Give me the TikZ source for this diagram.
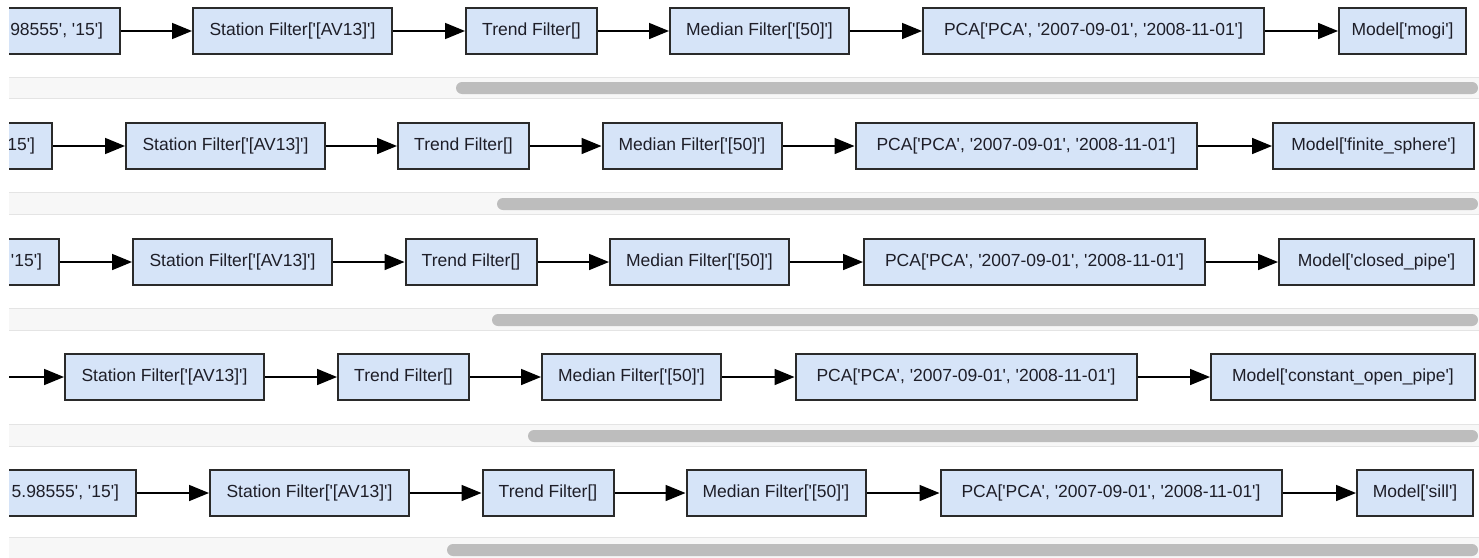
\documentclass[tikz,border=0pt]{standalone}
\usepackage{fontspec}
\setmainfont{Liberation Sans}[Ligatures=TeXOff]
\usetikzlibrary{arrows.meta}
\definecolor{boxfill}{HTML}{D6E4F8}
\definecolor{boxline}{HTML}{2A2A2A}
\definecolor{txt}{HTML}{1E1E28}
\definecolor{bandfill}{HTML}{F7F7F7}
\definecolor{bandline}{HTML}{E4E4E4}
\definecolor{thumb}{HTML}{BDBDBD}
\tikzset{
  box/.style={draw=boxline, fill=boxfill, line width=2pt, minimum height=46pt,
    inner sep=0pt, text=txt, font=\fontsize{17.5}{20}\selectfont},
  sfbox/.style={box, minimum width=199pt},
  tfbox/.style={box, minimum width=131pt},
  mfbox/.style={box, minimum width=179pt},
  pcabox/.style={box, minimum width=341pt},
  cutbox/.style={box, anchor=east, inner xsep=17pt},
  arr/.style={draw=black, line width=1.6pt, -{Triangle[length=20pt,width=16pt]}},
  band/.style={fill=bandfill, draw=none},
  bandedge/.style={draw=bandline, line width=1pt},
  thumbbar/.style={fill=thumb, draw=none, rounded corners=6pt}
}
\newcommand{\cuttext}[1]{\makebox[220pt][r]{#1}}
\newcommand{\scrollrow}[4]{%
  \fill[band] (9,#1) rectangle (1479,#2);
  \draw[bandedge] (9,#1) -- (1479,#1);
  \draw[bandedge] (9,#2) -- (1479,#2);
  \fill[thumbbar] (#4,#3) rectangle (1478,#3+12);
}
\begin{document}
\begin{tikzpicture}[x=1pt,y=-1pt]
\useasboundingbox[fill=white] (0,0) rectangle (1479,557);
\clip (9,0) rectangle (1479,557);

% ---------- row 1
\node[cutbox] (c1) at (121,31) {\cuttext{98555', '15']}};
\node[sfbox] (sf1) at (292.5,31) {Station Filter['[AV13]']};
\node[tfbox] (tf1) at (531.5,31) {Trend Filter[]};
\node[mfbox] (mf1) at (759.5,31) {Median Filter['[50]']};
\node[pcabox] (pca1) at (1093.5,31) {PCA['PCA', '2007-09-01', '2008-11-01']};
\node[box, minimum width=127pt] (m1) at (1402.5,31) {Model['mogi']};
\draw[arr] (c1) -- (sf1);
\draw[arr] (sf1) -- (tf1);
\draw[arr] (tf1) -- (mf1);
\draw[arr] (mf1) -- (pca1);
\draw[arr] (pca1) -- (m1);
\scrollrow{77}{98}{82}{456}

% ---------- row 2
\node[cutbox] (c2) at (53,146) {\cuttext{15']}};
\node[sfbox] (sf2) at (225.5,146) {Station Filter['[AV13]']};
\node[tfbox] (tf2) at (463.5,146) {Trend Filter[]};
\node[mfbox] (mf2) at (692,146) {Median Filter['[50]']};
\node[pcabox] (pca2) at (1026,146) {PCA['PCA', '2007-09-01', '2008-11-01']};
\node[box, minimum width=201pt] (m2) at (1373.5,146) {Model['finite\_sphere']};
\draw[arr] (c2) -- (sf2);
\draw[arr] (sf2) -- (tf2);
\draw[arr] (tf2) -- (mf2);
\draw[arr] (mf2) -- (pca2);
\draw[arr] (pca2) -- (m2);
\scrollrow{192}{214}{198}{497}

% ---------- row 3
\node[cutbox] (c3) at (60,262) {\cuttext{'15']}};
\node[sfbox] (sf3) at (232.5,262) {Station Filter['[AV13]']};
\node[tfbox] (tf3) at (471,262) {Trend Filter[]};
\node[mfbox] (mf3) at (699.5,262) {Median Filter['[50]']};
\node[pcabox] (pca3) at (1034.5,262) {PCA['PCA', '2007-09-01', '2008-11-01']};
\node[box, minimum width=195pt] (m3) at (1376.5,262) {Model['closed\_pipe']};
\draw[arr] (c3) -- (sf3);
\draw[arr] (sf3) -- (tf3);
\draw[arr] (tf3) -- (mf3);
\draw[arr] (mf3) -- (pca3);
\draw[arr] (pca3) -- (m3);
\scrollrow{308}{330}{314}{492}

% ---------- row 4
\coordinate (s4) at (9,377);
\node[sfbox] (sf4) at (164.5,377) {Station Filter['[AV13]']};
\node[tfbox] (tf4) at (403.5,377) {Trend Filter[]};
\node[mfbox] (mf4) at (631.5,377) {Median Filter['[50]']};
\node[pcabox] (pca4) at (966,377) {PCA['PCA', '2007-09-01', '2008-11-01']};
\node[box, minimum width=264pt] (m4) at (1343,377) {Model['constant\_open\_pipe']};
\draw[arr] (s4) -- (sf4);
\draw[arr] (sf4) -- (tf4);
\draw[arr] (tf4) -- (mf4);
\draw[arr] (mf4) -- (pca4);
\draw[arr] (pca4) -- (m4);
\scrollrow{424}{446}{430}{528}

% ---------- row 5
\node[cutbox] (c5) at (137,493) {\cuttext{5.98555', '15']}};
\node[sfbox] (sf5) at (309.5,493) {Station Filter['[AV13]']};
\node[tfbox] (tf5) at (548,493) {Trend Filter[]};
\node[mfbox] (mf5) at (776,493) {Median Filter['[50]']};
\node[pcabox] (pca5) at (1111,493) {PCA['PCA', '2007-09-01', '2008-11-01']};
\node[box, minimum width=116pt] (m5) at (1415,493) {Model['sill']};
\draw[arr] (c5) -- (sf5);
\draw[arr] (sf5) -- (tf5);
\draw[arr] (tf5) -- (mf5);
\draw[arr] (mf5) -- (pca5);
\draw[arr] (pca5) -- (m5);
\scrollrow{537}{560}{544}{447}
\end{tikzpicture}
\end{document}
